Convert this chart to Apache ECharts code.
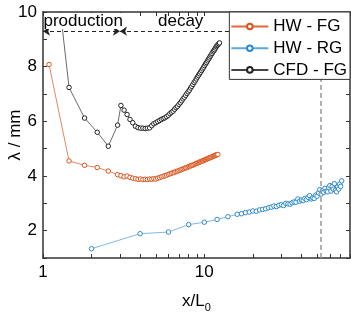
<!DOCTYPE html>
<html><head><meta charset="utf-8">
<script src="https://cdn.jsdelivr.net/npm/echarts@6/dist/echarts.min.js"></script>
<style>html,body{margin:0;padding:0;background:#fff}#c{width:351px;height:314px}</style>
</head><body><div id="c"></div>
<script>
// HW - FG (orange)
var hwFgX = [1.09,1.45,1.81,2.17,2.54,2.90,
 3.04,3.18,3.32,3.46,3.60,3.74,3.88,4.02,4.16,4.30,4.44,4.58,4.72,4.86,5.00,5.14,5.28,5.42,5.56,5.70,
 5.84,5.98,6.12,6.26,6.40,6.54,6.68,6.82,6.96,7.10,7.24,7.38,7.52,7.66,7.80,7.94,8.08,8.22,8.36,8.50,
 8.64,8.78,8.92,9.06,9.20,9.34,9.48,9.62,9.76,9.90,10.04,10.18,10.32,10.46,10.60,10.74,10.88,11.02,
 11.16,11.30,11.44,11.58,11.72,11.86,12.00,12.14];
var hwFgY = [8.08,4.55,4.39,4.31,4.18,4.05,
 4.01,3.97,4.00,3.95,3.92,3.90,3.88,3.89,3.87,3.88,3.87,3.89,3.88,3.90,3.89,3.92,3.94,3.97,3.99,4.01,
 4.03,4.06,4.08,4.10,4.12,4.14,4.16,4.18,4.20,4.22,4.24,4.26,4.28,4.30,4.31,4.33,4.35,4.37,4.39,4.40,
 4.42,4.44,4.46,4.47,4.49,4.51,4.52,4.54,4.55,4.57,4.59,4.60,4.62,4.63,4.65,4.66,4.67,4.69,
 4.70,4.72,4.73,4.74,4.76,4.77,4.78,4.79];
// HW - RG (blue)
var hwRgX = [2,4,6,8,10,12,14,16,17,18,19,20,21,22,23,24,25,26,27,28,29,30,31,32,33,34,35,36,37,38,39,40,
 41,42,43,44,45,46,47,48,49,50,51,52,53,54,55,56,57,58,59,60,61,62,63,64,65,66,67,68,69,70,71];
var hwRgY = [1.34,1.89,1.95,2.22,2.31,2.41,2.51,2.60,2.62,2.66,2.68,2.72,2.71,2.76,2.78,2.80,2.84,2.86,2.90,2.88,
 2.93,2.95,2.92,3.00,2.98,2.97,3.02,3.05,3.04,3.16,3.08,3.12,3.10,3.18,3.14,3.22,3.28,3.16,3.20,3.18,3.30,3.26,
 3.38,3.50,3.34,3.47,3.40,3.55,3.44,3.42,3.58,3.65,3.45,3.62,3.52,3.72,3.48,3.42,3.60,3.52,3.70,3.62,3.82];
// CFD - FG (black)
var cfdX = [1.09,1.45,1.81,2.17,2.54,2.90,
 3.04,3.18,3.32,3.46,3.60,3.74,3.88,4.02,4.16,4.30,4.44,4.58,4.72,4.86,5.00,5.14,5.28,5.42,5.56,5.70,
 5.84,5.98,6.12,6.26,6.40,6.54,6.68,6.82,6.96,7.10,7.24,7.38,7.52,7.66,7.80,7.94,8.08,8.22,8.36,8.50,
 8.64,8.78,8.92,9.06,9.20,9.34,9.48,9.62,9.76,9.90,10.04,10.18,10.32,10.46,10.60,10.74,10.88,11.02,
 11.16,11.30,11.44,11.58,11.72,11.86,12.00,12.14,12.28,12.42];
var cfdY = [13.7,7.24,6.12,5.60,5.09,5.86,
 6.58,6.41,6.25,6.07,5.95,5.82,5.77,5.75,5.75,5.74,5.75,5.76,5.84,5.91,5.95,5.99,6.03,6.07,6.10,6.13,
 6.17,6.22,6.28,6.33,6.37,6.44,6.50,6.55,6.62,6.68,6.75,6.82,6.88,6.95,7.02,7.08,7.14,7.22,7.28,7.35,
 7.42,7.48,7.55,7.62,7.68,7.74,7.80,7.86,7.92,7.98,8.04,8.10,8.15,8.21,8.27,8.32,8.38,8.43,
 8.48,8.54,8.58,8.62,8.68,8.73,8.77,8.80,8.84,8.87];
var seriesNames = ['HW - FG','HW - RG','CFD - FG'];
var xTicks = [1,2,3,4,5,6,7,8,9,10,20,30,40,50,60,70,80];
var xLabels = [1,10];
var phaseY = 9.3, phaseSplitX = 3, thresholdX = 53;

var FONT = 'Liberation Sans, Arial, sans-serif';
function zip(xs, ys){ return xs.map(function(x,i){ return [x, ys[i]]; }); }
var axisLine = {show:true, lineStyle:{color:'#333', width:1.5}};
function mkSeries(name, data, col, lineCol, extra){
  var s = {name:name, type:'line', data:data, symbol:'circle', symbolSize:4.5,
    itemStyle:{color:'#fff', borderColor:col, borderWidth:1},
    lineStyle:{color:lineCol, width:0.8}, emphasis:{disabled:true}, animation:false, z:3};
  for (var k in extra) s[k] = extra[k];
  return s;
}
var chart = echarts.init(document.getElementById('c'));
chart.setOption({
  animation:false,
  grid:{left:43, right:1, top:12, bottom:56, outerBoundsMode:'none', containLabel:false},
  xAxis:[{type:'log', logBase:10, min:1, max:80, position:'bottom',
    axisLine:axisLine, splitLine:{show:false},
    axisTick:{show:true, inside:true, length:4, customValues:xTicks, lineStyle:{color:'#333', width:1}},
    axisLabel:{customValues:xLabels, color:'#000', fontSize:17, fontFamily:FONT, margin:6},
    name:'{a|x/L}{b|0}', nameLocation:'middle', nameGap:32, nameMoveOverlap:false,
    nameTextStyle:{rich:{a:{fontSize:17, fontFamily:FONT, color:'#000'}, b:{fontSize:11, fontFamily:FONT, color:'#000', verticalAlign:'bottom', padding:[12,0,0,0]}}}
  },{type:'log', logBase:10, min:1, max:80, position:'top',
    axisLine:axisLine, splitLine:{show:false},
    axisTick:{show:true, inside:true, length:4, customValues:xTicks, lineStyle:{color:'#333', width:1}},
    axisLabel:{show:false}}],
  yAxis:[{type:'value', min:1, max:10, interval:1, position:'left',
    axisLine:axisLine, splitLine:{show:false},
    axisTick:{show:true, inside:true, length:4, lineStyle:{color:'#333', width:1}},
    axisLabel:{color:'#000', fontSize:17, fontFamily:FONT, margin:6,
      formatter:function(v){ return (v % 2 === 0) ? String(v) : ''; }},
    name:'λ / mm', nameLocation:'middle', nameGap:19, nameRotate:90, nameMoveOverlap:false,
    nameTextStyle:{fontSize:17, fontFamily:FONT, color:'#000', align:'center', verticalAlign:'bottom'}
  },{type:'value', min:1, max:10, interval:1, position:'right',
    axisLine:axisLine, splitLine:{show:false},
    axisTick:{show:true, inside:true, length:4, lineStyle:{color:'#333', width:1}},
    axisLabel:{show:false}}],
  legend:{orient:'vertical', right:1, top:12, data:seriesNames,
    backgroundColor:'#fff', borderColor:'#333', borderWidth:1, borderRadius:0,
    padding:[5,3,0,1], itemWidth:37, itemHeight:7, itemGap:2.7, itemTextGap:5,
    textStyle:{fontSize:17, fontFamily:FONT, color:'#000', lineHeight:19}, z:10},
  graphic:[
    {type:'rect', shape:{x:44, y:13, width:80, height:16}, style:{fill:'#fff'}, z:8},
    {type:'text', x:43.5, y:21.5, z:9, style:{text:'production', font:'17px '+FONT, fill:'#000', verticalAlign:'middle'}},
    {type:'text', x:158, y:21.5, z:9, style:{text:'decay', font:'17px '+FONT, fill:'#000', verticalAlign:'middle'}}
  ],
  series:[
    mkSeries(seriesNames[0], zip(hwFgX, hwFgY), '#D9541E', '#E0683A', {}),
    mkSeries(seriesNames[1], zip(hwRgX, hwRgY), '#2E88CC', '#5EA6DE', {
      markLine:{silent:true, symbol:['none','none'], label:{show:false},
        lineStyle:{color:'#999', type:[5,3], width:1.5},
        data:[{xAxis:thresholdX}]}}),
    mkSeries(seriesNames[2], zip(cfdX, cfdY), '#222', '#444', {
      markLine:{silent:true, label:{show:false}, symbolSize:[7,7],
        lineStyle:{color:'#222', type:[4,3], width:1},
        data:[
          [{coord:[1, phaseY], symbol:'arrow'}, {coord:[phaseSplitX, phaseY], symbol:'arrow'}],
          [{coord:[phaseSplitX, phaseY], symbol:'arrow'}, {coord:[80, phaseY], symbol:'none'}]
        ]}})
  ]
});
</script></body></html>
